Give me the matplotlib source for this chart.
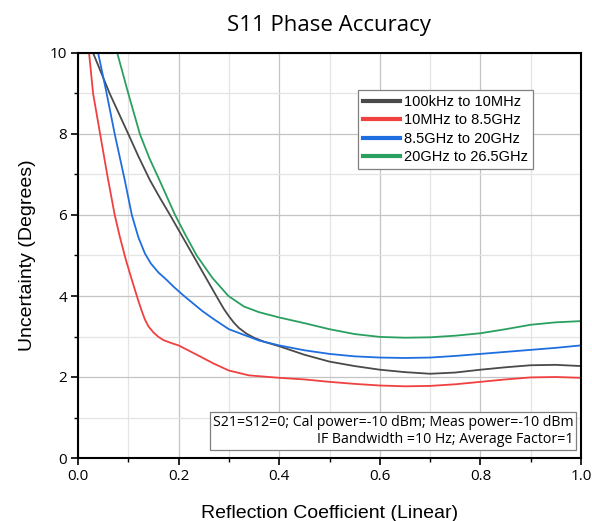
import matplotlib
matplotlib.use("Agg")
import matplotlib.pyplot as plt
from matplotlib.ticker import MultipleLocator

# values
x_black = [0.03, 0.063, 0.10, 0.12, 0.143, 0.163, 0.183, 0.206, 0.229, 0.252, 0.275, 0.29, 0.30,
           0.31, 0.32, 0.335, 0.35, 0.37, 0.40, 0.45, 0.50, 0.55, 0.60, 0.65, 0.70, 0.75, 0.80,
           0.85, 0.90, 0.95, 1.00]
y_black = [10, 9, 8, 7.45, 6.86, 6.42, 6.0, 5.5, 5.0, 4.5, 4.0, 3.68, 3.5,
           3.34, 3.21, 3.07, 2.97, 2.87, 2.76, 2.55, 2.38, 2.27, 2.18, 2.12, 2.08, 2.11, 2.18,
           2.24, 2.29, 2.30, 2.27]

x_red = [0.022, 0.03, 0.044, 0.058, 0.073, 0.083, 0.095, 0.107, 0.12, 0.127, 0.133, 0.14, 0.15,
         0.16, 0.17, 0.185, 0.20, 0.233, 0.27, 0.30, 0.34, 0.40, 0.45, 0.50, 0.55, 0.60,
         0.65, 0.70, 0.75, 0.80, 0.85, 0.90, 0.95, 1.00]
y_red = [10, 9, 8, 7, 6, 5.47, 4.9, 4.4, 3.88, 3.62, 3.42, 3.25, 3.1,
         2.99, 2.91, 2.84, 2.78, 2.57, 2.33, 2.16, 2.04, 1.98, 1.94, 1.88, 1.83, 1.79,
         1.77, 1.78, 1.82, 1.88, 1.94, 1.99, 2.0, 1.98]

x_blue = [0.04, 0.057, 0.073, 0.093, 0.107, 0.12, 0.133, 0.145, 0.16, 0.176, 0.19, 0.209, 0.247,
          0.272, 0.30, 0.36, 0.40, 0.45, 0.50, 0.55, 0.60, 0.65, 0.70, 0.75, 0.80, 0.85,
          0.90, 0.95, 1.00]
y_blue = [10, 9, 8, 6.86, 6, 5.45, 5.05, 4.8, 4.58, 4.4, 4.23, 4.02, 3.63,
          3.41, 3.18, 2.9, 2.78, 2.66, 2.57, 2.51, 2.48, 2.47, 2.48, 2.52, 2.57, 2.62,
          2.67, 2.72, 2.78]

x_green = [0.078, 0.10, 0.123, 0.142, 0.162, 0.193, 0.214, 0.236, 0.267, 0.299, 0.33, 0.36, 0.40,
           0.45, 0.50, 0.55, 0.60, 0.65, 0.70, 0.75, 0.80, 0.85, 0.90, 0.95, 1.00]
y_green = [10, 9, 8, 7.4, 6.86, 6.0, 5.5, 5.0, 4.45, 4.0, 3.74, 3.6, 3.47,
           3.33, 3.18, 3.06, 2.99, 2.97, 2.98, 3.02, 3.08, 3.18, 3.29, 3.35, 3.38]

labels = ['100kHz to 10MHz', '10MHz to 8.5GHz', '8.5GHz to 20GHz', '20GHz to 26.5GHz']
colors = ['#4a4a4a', '#f04040', '#1f6ee0', '#2aa060']

fig = plt.figure(figsize=(5.92, 5.21), dpi=100)
ax = fig.add_axes([78 / 592, 63 / 521, 503 / 592, 405 / 521])

series = [(x_black, y_black), (x_red, y_red), (x_blue, y_blue), (x_green, y_green)]
for (xs, ys), lab, c in zip(series, labels, colors):
    ax.plot(xs, ys, color=c, lw=1.3, label=lab)

ax.set_xlim(0, 1)
ax.set_ylim(0, 10)
ax.xaxis.set_major_locator(MultipleLocator(0.2))
ax.xaxis.set_minor_locator(MultipleLocator(0.1))
ax.yaxis.set_major_locator(MultipleLocator(2))
ax.yaxis.set_minor_locator(MultipleLocator(1))
ax.grid(which='major', color='#c4c4c4', lw=0.9)
ax.grid(which='minor', color='#e4e4e4', lw=0.9)
ax.set_axisbelow(True)

for s in ax.spines.values():
    s.set_linewidth(1.5)
ax.tick_params(which='major', direction='out', length=5, width=1.2, labelsize=11, pad=3)
ax.tick_params(which='minor', direction='out', length=3, width=1.0)
for t in ax.get_xticklabels() + ax.get_yticklabels():
    t.set_fontfamily('Open Sans')

fig.text(329 / 592, 1 - 26 / 521, 'S11 Phase Accuracy', ha='center', va='center',
         fontsize=16, family='Open Sans')
ax.set_xlabel('Reflection Coefficient (Linear)', fontsize=14, family='Liberation Sans', labelpad=15)
ax.set_ylabel('Uncertainty (Degrees)', fontsize=14, family='Liberation Sans', labelpad=10)

leg = ax.legend(loc='upper left', bbox_to_anchor=(0.557, 0.909), fancybox=False,
                framealpha=1, edgecolor='#808080', borderpad=0.35, labelspacing=0.3,
                handlelength=2.5, handletextpad=0.3, borderaxespad=0,
                prop={'family': 'Liberation Sans', 'size': 10.5})
leg.get_frame().set_linewidth(0.9)
for line in leg.get_lines():
    line.set_linewidth(3)

ax.text(0.985, 0.067, 'S21=S12=0; Cal power=-10 dBm; Meas power=-10 dBm\nIF Bandwidth =10 Hz; Average Factor=1',
        transform=ax.transAxes, ha='right', va='center', fontsize=10.2, family='Open Sans',
        linespacing=1.2,
        bbox=dict(boxstyle='square,pad=0.2', fc='white', ec='#808080', lw=0.9))

fig.savefig('out.png', dpi=100)
